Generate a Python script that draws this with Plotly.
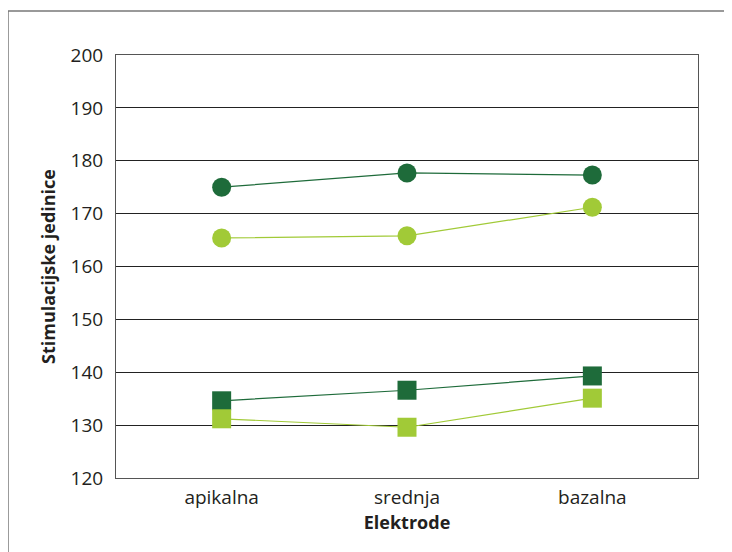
import plotly.graph_objects as go

categories = ["apikalna", "srednja", "bazalna"]
dark_circles = [175.0, 177.7, 177.3]
light_circles = [165.4, 165.8, 171.2]
dark_squares = [134.6, 136.6, 139.3]
light_squares = [131.2, 129.6, 135.1]
y_ticks = [120, 130, 140, 150, 160, 170, 180, 190, 200]

DARK = "#1e6b3a"
LIGHT = "#a1ca37"
xpos = list(range(len(categories)))

fig = go.Figure()
series = [
    (dark_circles, DARK, "circle", 19),
    (light_circles, LIGHT, "circle", 19),
    (dark_squares, DARK, "square", 19),
    (light_squares, LIGHT, "square", 19),
]
for vals, col, sym, sz in series:
    fig.add_trace(go.Scatter(
        x=xpos, y=vals, mode="lines+markers",
        line=dict(color=col, width=1.2),
        marker=dict(symbol=sym, size=sz, color=col, line=dict(width=0)),
        showlegend=False, cliponaxis=False,
    ))

font = "Open Sans, DejaVu Sans, sans-serif"
fig.update_layout(
    width=724, height=544,
    margin=dict(l=108, r=34, t=47, b=74),
    paper_bgcolor="white", plot_bgcolor="white",
    font=dict(family=font, color="#231f20", size=19),
    xaxis=dict(
        range=[-0.57, 2.57], tickvals=xpos, ticktext=categories,
        showgrid=False, zeroline=False, showline=True, mirror=True,
        linecolor="#555555", linewidth=1, ticks="",
        tickfont=dict(size=19), ticklabelstandoff=2,
        title=dict(text="<b>Elektrode</b>", font=dict(size=18), standoff=3),
    ),
    yaxis=dict(
        range=[120, 200], tickvals=y_ticks,
        showgrid=True, gridcolor="#222222", gridwidth=1,
        zeroline=False, showline=True, mirror=True,
        linecolor="#555555", linewidth=1, ticks="",
        tickfont=dict(size=19), ticklabelstandoff=8,
        title=dict(text="<b>Stimulacijske jedinice</b>", font=dict(size=18), standoff=10),
    ),
    shapes=[
        dict(type="line", xref="paper", yref="paper", x0=-0.1856, x1=1.06, y0=1.104, y1=1.104,
             line=dict(color="#777777", width=1.5)),
        dict(type="line", xref="paper", yref="paper", x0=-0.1856, x1=-0.1856, y0=-0.2, y1=1.104,
             line=dict(color="#777777", width=1.5)),
    ],
)

fig.write_html("out.html")
